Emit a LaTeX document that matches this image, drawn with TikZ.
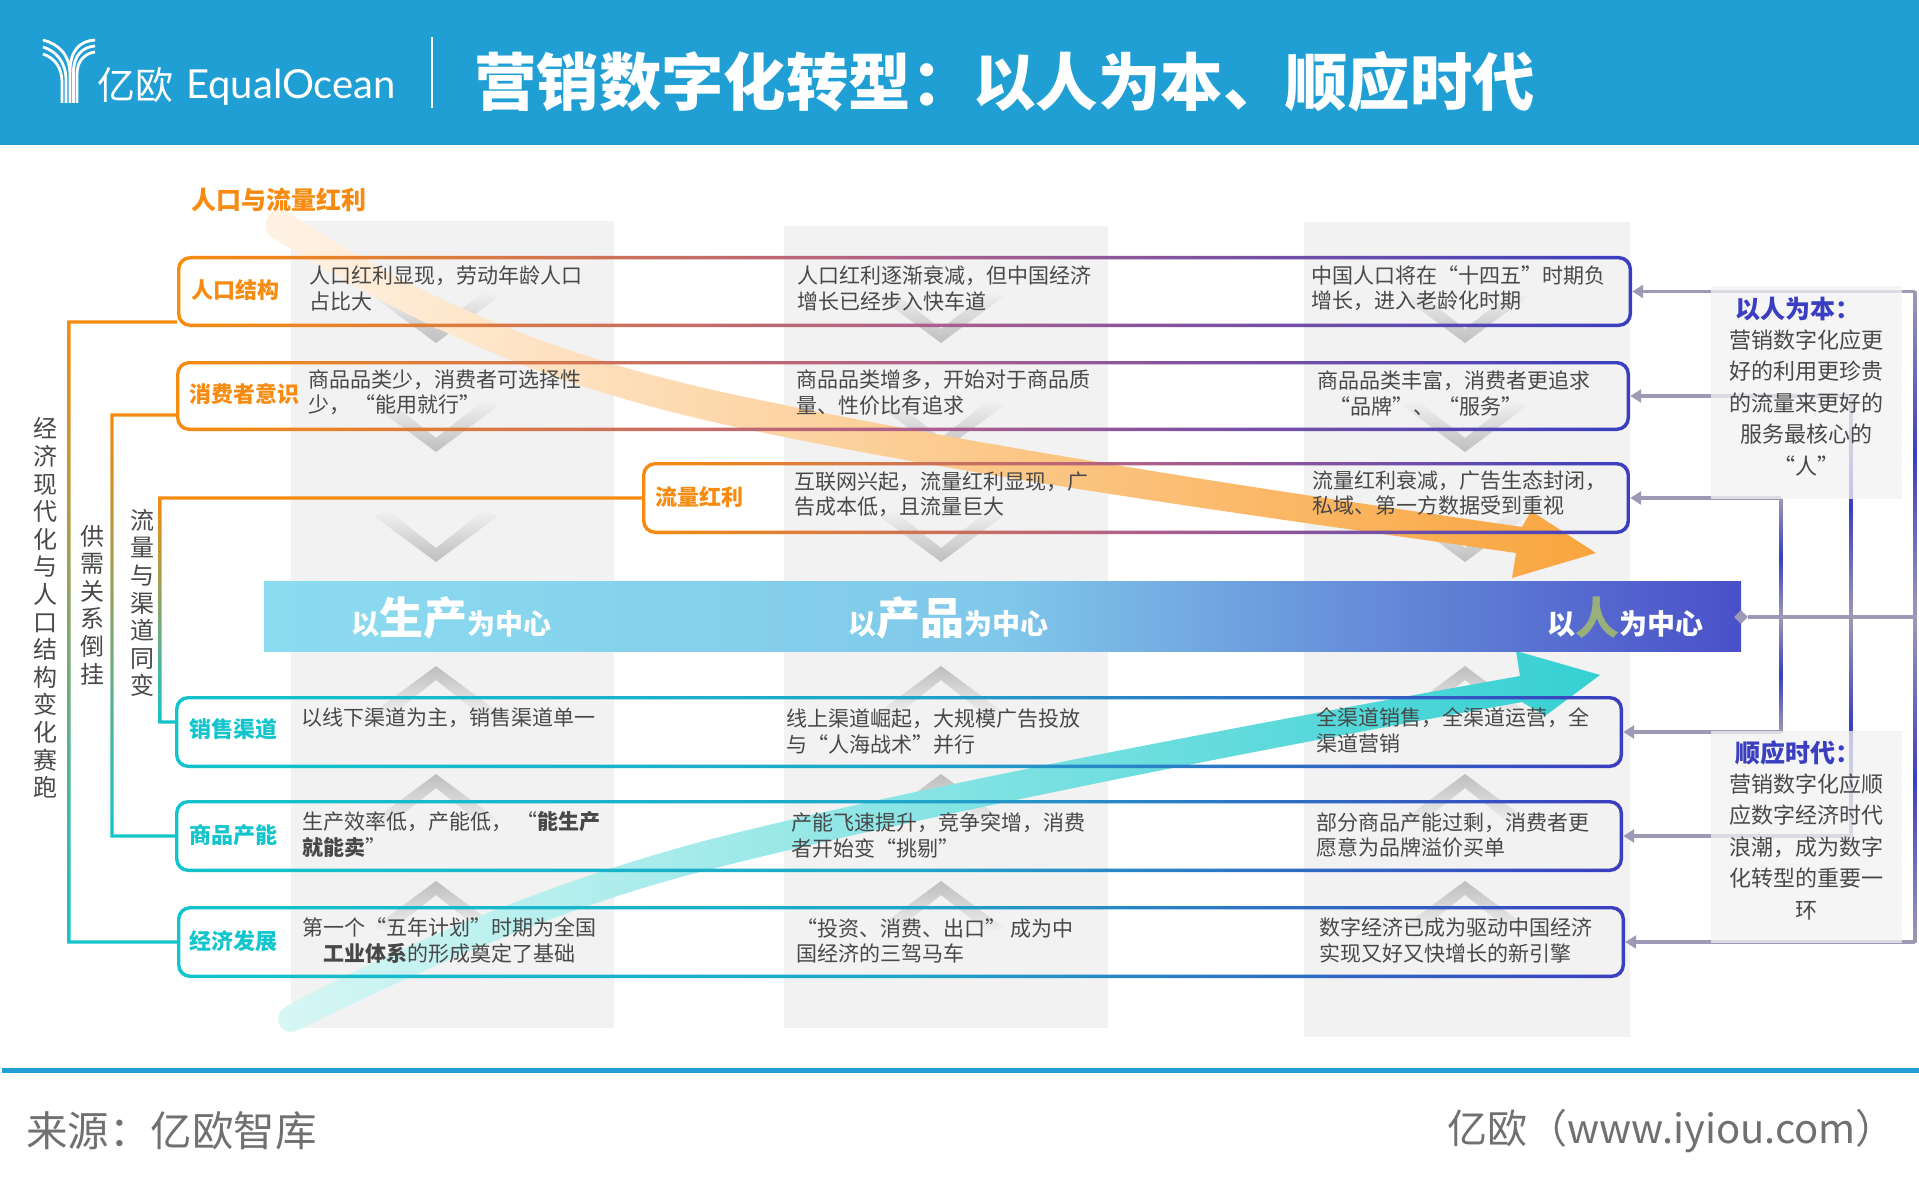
\documentclass[tikz,border=0pt]{standalone}
\usepackage{fontspec}
\setmainfont{Noto Sans CJK SC}
\newfontfamily\latinlogo{Lato}
\usepackage{tikz}
\usetikzlibrary{arrows.meta,calc,shapes.geometric}
\definecolor{headblue}{HTML}{209FD5}
\definecolor{colgray}{HTML}{F2F2F2}
\definecolor{chevgray}{HTML}{BEBEBE}
\definecolor{rorange}{HTML}{F68B0F}
\definecolor{rpurple}{HTML}{B0608A}
\definecolor{rblue}{HTML}{3A3EC0}
\definecolor{rteal}{HTML}{12C4CC}
\definecolor{rsea}{HTML}{1FA6C9}
\definecolor{linkgray}{HTML}{9C9AB5}
\definecolor{txtgray}{HTML}{484848}
\definecolor{footgray}{HTML}{707070}
\definecolor{banleft}{HTML}{8CDCF0}
\definecolor{banmid}{HTML}{80C8EA}
\definecolor{banright}{HTML}{4A50C8}
\definecolor{orangetail}{HTML}{FFF3E6}
\definecolor{orangehead}{HTML}{F9A53E}
\definecolor{tealtail}{HTML}{D8F7F5}
\definecolor{tealhead}{HTML}{35D0D3}
\tikzstyle{txt}=[anchor=west,align=left,inner sep=0,text=txtgray,font=\fontsize{21}{25.3}\selectfont]
\tikzstyle{toplab}=[inner sep=0,text=rorange,font=\fontsize{22}{26}\selectfont\bfseries]
\tikzstyle{botlab}=[inner sep=0,text=rteal,font=\fontsize{22}{26}\selectfont\bfseries]
\tikzstyle{vtxt}=[inner sep=0,align=center,text=txtgray,font=\fontsize{24}{27.6}\selectfont]
\tikzstyle{note}=[fill=colgray,fill opacity=.75,minimum width=191pt,minimum height=212pt,inner sep=0]
\tikzstyle{notetxt}=[inner sep=0,align=center,text=txtgray,font=\fontsize{22}{31.5}\selectfont]
\tikzstyle{notehead}=[inner sep=0,text=rblue,font=\fontsize{25}{30}\selectfont\bfseries]
\tikzstyle{bantxt}=[inner sep=0,text=white,font=\fontsize{28}{30}\selectfont\bfseries]
\tikzstyle{foot}=[inner sep=0,text=footgray,font=\fontsize{41.5}{46}\selectfont]
\tikzstyle{link}=[draw=linkgray,line width=3.2pt]
\tikzstyle{arrow}=[link,-{Triangle[length=11pt,width=13pt]}]
\tikzstyle{logoline}=[white,line width=2.8pt]
\newcommand{\bigtxt}[1]{{\fontsize{44}{44}\selectfont #1}}
\newcommand{\ringbox}[6]{
\shade[even odd rule,#6,rounded corners=13pt] (#2,#3) rectangle (#4,#5) [rounded corners=10pt] ({#2+3.4},{#3+3.4}) rectangle ({#4-3.4},{#5-3.4});
\node[inner sep=0,minimum width=#4pt-#2pt,minimum height=#5pt-#3pt] (#1) at ({(#2+#4)/2},{(#3+#5)/2}) {};
}
\newcommand{\elbow}[3]{
\shade[top color=rorange,bottom color=rteal] let \p1=(#1),\p2=(#2) in (\x1,\y1+1.6pt) -- (#3pt-1.6pt,\y1+1.6pt) -- (#3pt-1.6pt,\y2-1.6pt) -- (\x2,\y2-1.6pt) -- (\x2,\y2+1.6pt) -- (#3pt+1.6pt,\y2+1.6pt) -- (#3pt+1.6pt,\y1-1.6pt) -- (\x1,\y1-1.6pt) -- cycle;
}
\newcommand{\vlink}[2]{
\shade[top color=linkgray,bottom color=linkgray,middle color=rblue] let \p1=(#2.east),\p2=(hub) in (#1pt-1.6pt,\y1) rectangle (#1pt+1.6pt,\y2);
}
\begin{document}
\begin{tikzpicture}[x=1pt,y=-1pt]
\useasboundingbox (0,0) rectangle (1919,1190);
% header
\fill[headblue] (0,0) rectangle (1919,145);
\draw[logoline] (43,54) .. controls (55,58) and (62,68) .. (62,82) -- (62,103);
\draw[logoline] (43,47) .. controls (56,51) and (66,62) .. (66,80) -- (66,103);
\draw[logoline] (43,40) .. controls (58,44) and (70,54) .. (70,75) -- (70,103);
\draw[logoline] (95,40) .. controls (80,41) and (70,50) .. (70,72);
\draw[logoline] (95,46) .. controls (83,47) and (73.5,55) .. (73.5,72) -- (73.5,103);
\draw[logoline] (95,52) .. controls (86,53) and (77,60) .. (77,74) -- (77,103);
\node[inner sep=0,text=white,anchor=west,font=\fontsize{38}{40}\selectfont] (brand) at (97,85) {亿欧};
\node[inner sep=0,text=white,anchor=west,font=\fontsize{40}{42}\latinlogo\selectfont] (brandlat) at (186,87) {EqualOcean};
\draw[white,line width=2pt] (432,37) -- (432,108);
\node[inner sep=0,text=white,anchor=west,font=\fontsize{62.4}{66}\selectfont\bfseries] (title) at (474,82) {营销数字化转型：以人为本、顺应时代};
% columns
\fill[colgray] (291,221) rectangle (614,1028);
\fill[colgray] (784,226) rectangle (1108,1028);
\fill[colgray] (1304,222) rectangle (1630,1037);
% chevrons
\foreach \cx in {436,941,1465} {
\foreach \cy in {343,452,562} {
\shade[top color=colgray,bottom color=chevgray] (\cx,\cy) -- (\cx+62,\cy-46) -- (\cx+48,\cy-52) -- (\cx,\cy-14) -- (\cx-48,\cy-52) -- (\cx-62,\cy-46) -- cycle;
}
\foreach \cy in {666,774,881} {
\shade[top color=chevgray,bottom color=colgray] (\cx,\cy) -- (\cx+62,\cy+46) -- (\cx+48,\cy+52) -- (\cx,\cy+14) -- (\cx-48,\cy+52) -- (\cx-62,\cy+46) -- cycle;
}
}
% big arrows
\shade[left color=orangetail,right color=orangehead] (288,212) .. controls (420,300) and (560,360) .. (760,400) .. controls (1000,450) and (1300,495) .. (1522,527) -- (1531,511) -- (1596,553) -- (1512,578) -- (1516,553) .. controls (1300,522) and (1000,482) .. (760,432) .. controls (560,392) and (420,330) .. (270,236) .. controls (258,226) and (272,200) .. (288,212) -- cycle;
\shade[left color=tealtail,right color=tealhead] (285,1007) .. controls (420,935) and (560,880) .. (700,842) .. controls (900,790) and (1250,724) .. (1520,676) -- (1516,651) -- (1600,675) -- (1545,716) -- (1522,702) .. controls (1250,751) and (900,820) .. (700,872) .. controls (560,908) and (420,970) .. (298,1030) .. controls (282,1038) and (270,1018) .. (285,1007) -- cycle;
% banner
\node[inner sep=0,minimum width=1477pt,minimum height=70pt,left color=banleft,right color=banright,middle color=banmid] (banner) at (1002.5,616) {};
\node[bantxt] (prodc) at (451,618) {以\bigtxt{生产}为中心};
\node[bantxt] (prodd) at (948,618) {以\bigtxt{产品}为中心};
\node[bantxt] (prode) at (1625,618) {以{\fontsize{44}{44}\selectfont\color[HTML]{9AB07A}人}为中心};
% rows
\ringbox{rowone}{177}{256}{1632}{327}{left color=rorange,right color=rblue,middle color=rpurple}
\ringbox{rowtwo}{176}{361}{1630}{431}{left color=rorange,right color=rblue,middle color=rpurple}
\ringbox{rowthree}{642}{462}{1630}{534}{left color=rorange,right color=rblue,middle color=rpurple}
\ringbox{rowfour}{175}{696}{1623}{768}{left color=rteal,right color=rblue,middle color=rsea}
\ringbox{rowfive}{175}{800}{1623}{872}{left color=rteal,right color=rblue,middle color=rsea}
\ringbox{rowsix}{177}{906}{1625}{978}{left color=rteal,right color=rblue,middle color=rsea}
% left links
\coordinate (lone) at (rowone.west |- 0,322);
\coordinate (ltwo) at (rowtwo.west |- 0,415);
\coordinate (lfour) at (rowfour.west |- 0,722);
\elbow{lone}{rowsix.west}{69}
\elbow{ltwo}{rowfive.west}{112}
\elbow{rowthree.west}{lfour}{160}
\node[vtxt] (va) at (45,608) {经\\济\\现\\代\\化\\与\\人\\口\\结\\构\\变\\化\\赛\\跑};
\node[vtxt] (vb) at (92,605) {供\\需\\关\\系\\倒\\挂};
\node[vtxt] (vc) at (142,603) {流\\量\\与\\渠\\道\\同\\变};
% right links
\node[diamond,fill=linkgray,inner sep=0,minimum size=14pt] (hub) at (1741,617) {};
\coordinate (hubend) at (1916,617);
\draw[link] (hub) -- (hubend);
\vlink{1915}{rowone}
\vlink{1915}{rowsix}
\vlink{1851}{rowtwo}
\vlink{1851}{rowfive}
\vlink{1781}{rowthree}
\vlink{1781}{rowfour}
\coordinate (rone) at (1915,291.5);
\coordinate (rtwo) at (1851,396);
\coordinate (rthree) at (1781,498);
\coordinate (rfour) at (1781,732);
\coordinate (rfive) at (1851,836);
\coordinate (rsix) at (1915,942);
\draw[arrow] (rone) -- (rowone.east);
\draw[arrow] (rtwo) -- (rowtwo.east);
\draw[arrow] (rthree) -- (rowthree.east);
\draw[arrow] (rfour) -- (rowfour.east);
\draw[arrow] (rfive) -- (rowfive.east);
\draw[arrow] (rsix) -- (rowsix.east);
% notes
\node[note] (notetop) at (1806.5,392.5) {};
\node[note] (notebot) at (1806.5,837) {};
\node[notehead] (headtop) at (1798,309) {以人为本：};
\node[notetxt] (texttop) at (1806,403) {营销数字化应更\\好的利用更珍贵\\的流量来更好的\\服务最核心的\\“人”};
\node[notehead] (headbot) at (1798,753) {顺应时代：};
\node[notetxt] (textbot) at (1806,847) {营销数字化应顺\\应数字经济时代\\浪潮，成为数字\\化转型的重要一\\环};
% row labels
\node[toplab,font=\fontsize{25}{28}\selectfont\bfseries] (toplabel) at (279,200) {人口与流量红利};
\node[toplab] (one) at (235,290) {人口结构};
\node[toplab] (two) at (244,394) {消费者意识};
\node[toplab] (three) at (699,497) {流量红利};
\node[botlab] (four) at (233,729) {销售渠道};
\node[botlab] (five) at (233,835) {商品产能};
\node[botlab] (six) at (233,941) {经济发展};
% row texts
\node[txt] (aone) at (309,288.5) {人口红利显现，劳动年龄人口\\占比大};
\node[txt] (bone) at (797,288.5) {人口红利逐渐衰减，但中国经济\\增长已经步入快车道};
\node[txt] (cone) at (1311,288.5) {中国人口将在“十四五”时期负\\增长，进入老龄化时期};
\node[txt] (atwo) at (308,392.5) {商品品类少，消费者可选择性\\少， “能用就行”};
\node[txt] (btwo) at (796,392.5) {商品品类增多，开始对于商品质\\量、性价比有追求};
\node[txt] (ctwo) at (1317,393.5) {商品品类丰富，消费者更追求\\\hspace*{12pt}“品牌”、 “服务”};
\node[txt] (bthree) at (794,494.5) {互联网兴起，流量红利显现，广\\告成本低，且流量巨大};
\node[txt] (cthree) at (1312,493) {流量红利衰减，广告生态封闭，\\私域、第一方数据受到重视};
\node[txt] (afour) at (301,718) {以线下渠道为主，销售渠道单一};
\node[txt] (bfour) at (786,731.5) {线上渠道崛起，大规模广告投放\\与“人海战术”并行};
\node[txt] (cfour) at (1316,730.5) {全渠道销售，全渠道运营，全\\渠道营销};
\node[txt] (afive) at (302,834.5) {生产效率低，产能低， “\textbf{能生产}\\\textbf{就能卖}”};
\node[txt] (bfive) at (791,835.5) {产能飞速提升，竞争突增，消费\\者开始变“挑剔”};
\node[txt] (cfive) at (1316,835) {部分商品产能过剩，消费者更\\愿意为品牌溢价买单};
\node[txt,align=center] (asix) at (302,940.5) {第一个“五年计划”时期为全国\\\textbf{工业体系}的形成奠定了基础};
\node[txt] (bsix) at (796,941) {“投资、消费、出口” 成为中\\国经济的三驾马车};
\node[txt] (csix) at (1319,940.5) {数字经济已成为驱动中国经济\\实现又好又快增长的新引擎};
% footer
\fill[headblue] (2,1067.5) rectangle (1919,1072.5);
\node[foot,anchor=west] (sourcetxt) at (26,1131) {来源：亿欧智库};
\node[foot,anchor=east,font=\fontsize{40}{46}\selectfont] (sitetxt) at (1896,1131) {亿欧（www.iyiou.com）};
\end{tikzpicture}
\end{document}
